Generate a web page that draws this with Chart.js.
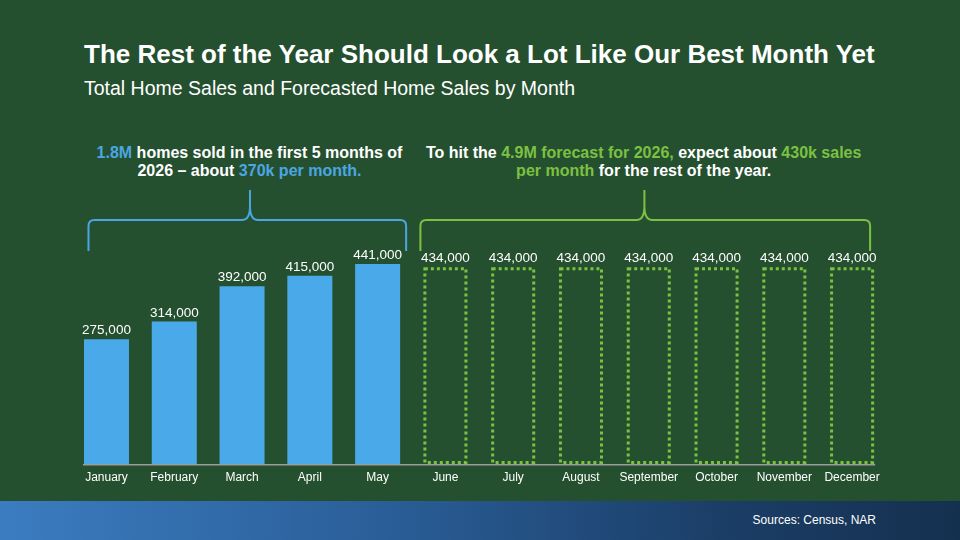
<!DOCTYPE html>
<html>
<head>
<meta charset="utf-8">
<script src="https://cdn.jsdelivr.net/npm/chart.js@4.4.1/dist/chart.umd.min.js"></script>
<style>
  html, body { margin: 0; padding: 0; }
  body { width: 960px; height: 540px; position: relative; overflow: hidden;
         background: #25502f; font-family: "Liberation Sans", Arial, Helvetica, sans-serif; color: #fff; }
  #chartWrap { position: absolute; left: 0; top: 0; width: 960px; height: 540px; }
  .title { position: absolute; left: 84px; top: 41px; font-size: 26px; line-height: 26px; font-weight: bold; white-space: nowrap; }
  .subtitle { position: absolute; left: 84px; top: 78.5px; font-size: 19.5px; line-height: 19.5px; white-space: nowrap; }
  .note { position: absolute; top: 143.6px; font-size: 16px; line-height: 18.5px; font-weight: bold; text-align: center; }
  #note1 { left: 79.5px; width: 340px; }
  #note2 { left: 403.7px; width: 480px; }
  .blue { color: #4ba6e3; }
  .green { color: #7cc142; }
  .footer { position: absolute; left: 0; top: 501px; width: 960px; height: 39px;
            background: linear-gradient(to right, #3b7cc0 0%, #2a5e98 40%, #1b3e67 75%, #15304f 100%); }
  .footer span { position: absolute; right: 84px; top: 12px; font-size: 12px; line-height: 14px; white-space: nowrap; }
</style>
</head>
<body>
<div class="title">The Rest of the Year Should Look a Lot Like Our Best Month Yet</div>
<div class="subtitle">Total Home Sales and Forecasted Home Sales by Month</div>
<div class="note" id="note1"><span class="blue">1.8M</span> homes sold in the first 5 months of<br>2026 – about <span class="blue">370k per month.</span></div>
<div class="note" id="note2">To hit the <span class="green">4.9M forecast for 2026,</span> expect about <span class="green">430k sales</span><br><span class="green">per month</span> for the rest of the year.</div>
<div class="footer"><span>Sources: Census, NAR</span></div>
<div id="chartWrap"><canvas id="c" width="960" height="540"></canvas></div>
<script>
// ---- data ----
const months = ["January", "February", "March", "April", "May", "June", "July",
                "August", "September", "October", "November", "December"];
const actualSales = [275000, 314000, 392000, 415000, 441000];
const forecastSales = [434000, 434000, 434000, 434000, 434000, 434000, 434000];

const actualData = months.map((m, i) => i < actualSales.length ? actualSales[i] : null);
const forecastData = months.map((m, i) => i >= actualSales.length ? forecastSales[i - actualSales.length] : null);

const BLUE = '#4aa9e9';
const GREEN = '#7cc142';
const FONT = '"Liberation Sans", Arial, Helvetica, sans-serif';

function fmt(v) { return v.toLocaleString('en-US'); }

function drawBracket(ctx, l, r, p, color) {
  const yH = 220, yTop = 190, yBot = 251, rad = 6, flare = 8, neck = 14;
  ctx.save();
  ctx.strokeStyle = color;
  ctx.lineWidth = 2;
  ctx.lineJoin = 'round';
  ctx.lineCap = 'butt';
  ctx.beginPath();
  ctx.moveTo(l, yBot);
  ctx.lineTo(l, yH + rad);
  ctx.quadraticCurveTo(l, yH, l + rad, yH);
  ctx.lineTo(p - flare, yH);
  ctx.quadraticCurveTo(p, yH, p, yH - neck);
  ctx.lineTo(p, yTop);
  ctx.moveTo(p, yH - neck);
  ctx.quadraticCurveTo(p, yH, p + flare, yH);
  ctx.lineTo(r - rad, yH);
  ctx.quadraticCurveTo(r, yH, r, yH + rad);
  ctx.lineTo(r, yBot);
  ctx.stroke();
  ctx.restore();
}

const decorPlugin = {
  id: 'decor',
  beforeDatasetsDraw(chart) {
    const ctx = chart.ctx;
    const m0 = chart.getDatasetMeta(0).data[0];
    const m1 = chart.getDatasetMeta(1).data[months.length - 1];
    const left = m0.x - m0.width / 2 - 1;
    const right = m1.x + m1.width / 2 + 1;
    const y = chart.chartArea.bottom + 0.75;
    ctx.save();
    ctx.strokeStyle = '#9c9c9c';
    ctx.lineWidth = 1.5;
    ctx.beginPath();
    ctx.moveTo(left, y);
    ctx.lineTo(right, y);
    ctx.stroke();
    ctx.restore();
  },
  afterDatasetsDraw(chart) {
    const ctx = chart.ctx;
    const xs = chart.scales.x;
    // dotted forecast bars
    const fMeta = chart.getDatasetMeta(1);
    ctx.save();
    ctx.strokeStyle = GREEN;
    ctx.lineWidth = 3;
    ctx.setLineDash([3, 3]);
    fMeta.data.forEach((el, i) => {
      if (forecastData[i] === null) return;
      const { x, y, base, width } = el.getProps(['x', 'y', 'base', 'width'], true);
      ctx.strokeRect(x - width / 2 + 1.5, y + 1.5, width - 3, base - y - 3);
    });
    ctx.restore();
    // value labels
    ctx.save();
    ctx.fillStyle = '#ffffff';
    ctx.font = '13.5px ' + FONT;
    ctx.textAlign = 'center';
    ctx.textBaseline = 'alphabetic';
    [0, 1].forEach(di => {
      const meta = chart.getDatasetMeta(di);
      const data = chart.data.datasets[di].data;
      meta.data.forEach((el, i) => {
        if (data[i] === null) return;
        ctx.fillText(fmt(data[i]), el.x, el.y - 5);
      });
    });
    ctx.restore();
    // brackets
    const n = actualSales.length;
    const bl = xs.getPixelForValue(0) - 18;
    const br = xs.getPixelForValue(n - 1) + 28.5;
    drawBracket(ctx, bl, br, bl + 161.5, '#4aa6e2');
    const gl = xs.getPixelForValue(n) - 25;
    const gr = xs.getPixelForValue(months.length - 1) + 18;
    drawBracket(ctx, gl, gr, gl + 224, GREEN);
  }
};

new Chart(document.getElementById('c'), {
  type: 'bar',
  data: {
    labels: months,
    datasets: [
      { label: 'Total Home Sales', data: actualData, backgroundColor: BLUE, borderWidth: 0,
        grouped: false, barPercentage: 0.664, categoryPercentage: 1 },
      { label: 'Forecasted Home Sales', data: forecastData, backgroundColor: 'rgba(0,0,0,0)', borderWidth: 0,
        grouped: false, barPercentage: 0.65, categoryPercentage: 1 }
    ]
  },
  options: {
    responsive: false,
    animation: false,
    devicePixelRatio: 1,
    layout: { padding: { left: 72.6, right: 74, top: 237.25, bottom: 49.6 } },
    plugins: { legend: { display: false }, title: { display: false }, tooltip: { enabled: false } },
    scales: {
      x: {
        grid: { display: false, drawTicks: false },
        border: { display: false },
        ticks: { color: '#ffffff', font: { family: FONT, size: 12 }, padding: 6, maxRotation: 0, autoSkip: false }
      },
      y: { display: false, min: 0, max: 500000 }
    }
  },
  plugins: [decorPlugin]
});
</script>
</body>
</html>
